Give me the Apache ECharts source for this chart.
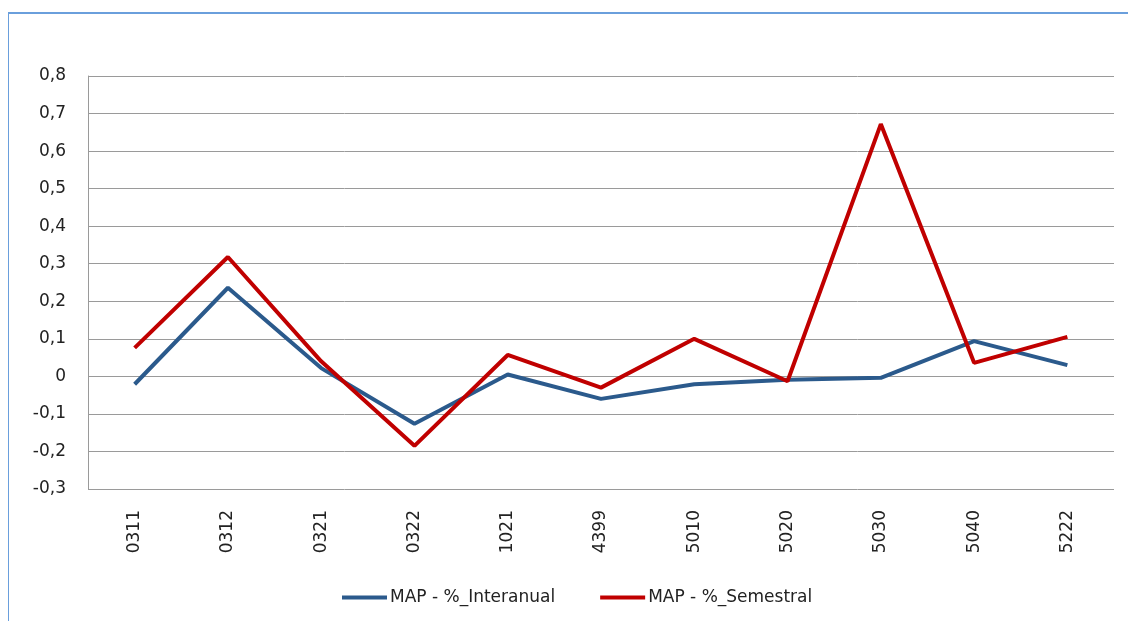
<!DOCTYPE html>
<html>
<head>
<meta charset="utf-8">
<script src="https://cdn.jsdelivr.net/npm/echarts@6/dist/echarts.min.js"></script>
<style>
html,body{margin:0;padding:0;background:#fff;overflow:hidden;}
#frame{position:absolute;left:8px;top:12px;width:1130px;height:620px;border-left:1px solid #6a9fdc;border-top:2px solid #6a9fdc;box-sizing:border-box;}
#chart{position:absolute;left:0;top:0;width:1128px;height:621px;}
</style>
</head>
<body>
<div id="frame"></div>
<div id="chart"></div>
<script>
const categories = ['0311','0312','0321','0322','1021','4399','5010','5020','5030','5040','5222'];
const interanual = [-0.021, 0.236, 0.022, -0.126, 0.005, -0.060, -0.021, -0.009, -0.004, 0.094, 0.030];
const semestral  = [0.076, 0.318, 0.040, -0.185, 0.057, -0.030, 0.100, -0.013, 0.672, 0.036, 0.105];
const seriesNames = ['MAP - %_Interanual', 'MAP - %_Semestral'];
const yTicks = [-0.3, -0.2, -0.1, 0, 0.1, 0.2, 0.3, 0.4, 0.5, 0.6, 0.7, 0.8];

const chart = echarts.init(document.getElementById('chart'), null, {renderer: 'canvas'});
const font = '"DejaVu Sans", Verdana, sans-serif';
chart.setOption({
  animation: false,
  backgroundColor: 'transparent',
  grid: {left: 88, right: 14, top: 76, bottom: 132, containLabel: false},
  legend: {
    top: 584, left: 337,
    itemWidth: 45, itemHeight: 4, itemGap: 45,
    icon: 'rect',
    textStyle: {fontFamily: font, fontSize: 17, color: '#222', padding: [0, 0, 0, -2]},
    data: seriesNames
  },
  xAxis: {
    type: 'category',
    data: categories,
    boundaryGap: true,
    axisLine: {show: false},
    axisTick: {show: false},
    axisLabel: {rotate: 90, margin: 21, fontFamily: font, fontSize: 17, color: '#222'}
  },
  yAxis: {
    type: 'value',
    min: yTicks[0], max: yTicks[yTicks.length - 1], interval: 0.1,
    axisLine: {show: true, lineStyle: {color: '#9a9a9a', width: 1}},
    axisTick: {show: false},
    splitLine: {show: true, lineStyle: {color: '#9a9a9a', width: 1}},
    axisLabel: {
      margin: 22, fontFamily: font, fontSize: 17, color: '#222',
      formatter: v => { const r = Math.round(v * 10) / 10; return r === 0 ? '0' : String(r).replace('.', ','); }
    }
  },
  series: [
    {name: seriesNames[0], type: 'line', data: interanual, symbol: 'none', lineStyle: {color: '#2b5a8c', width: 4}, itemStyle: {color: '#2b5a8c'}},
    {name: seriesNames[1], type: 'line', data: semestral, symbol: 'none', lineStyle: {color: '#c00000', width: 4}, itemStyle: {color: '#c00000'}}
  ]
});
</script>
</body>
</html>
